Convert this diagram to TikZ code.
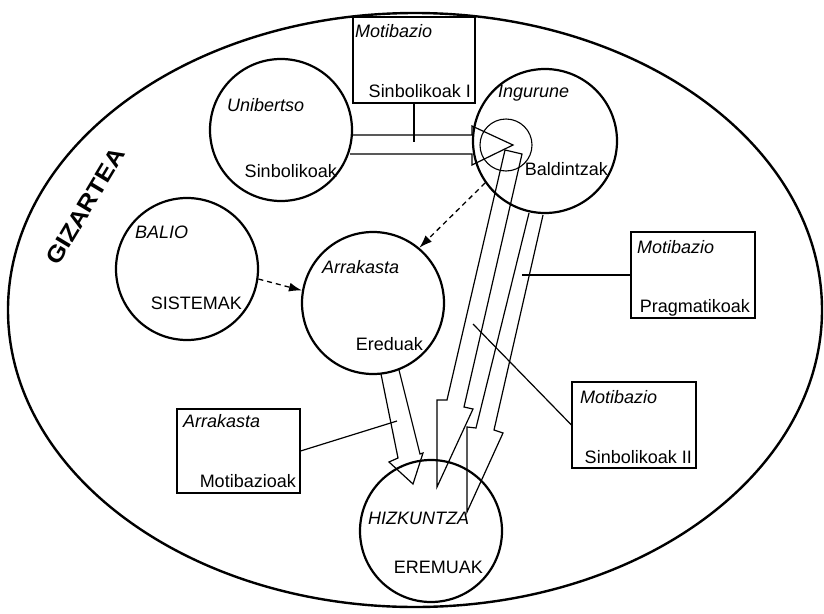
\documentclass[tikz,border=0pt]{standalone}
\usepackage{fontspec}
\setmainfont{Liberation Sans}
\usetikzlibrary{arrows.meta}
\begin{document}
\begin{tikzpicture}[x=1pt,y=-1pt,
  ring/.style={circle, draw, line width=2.2pt, minimum size=142pt, inner sep=0pt},
  frame/.style={draw, line width=1.1pt, rectangle, inner sep=0pt},
  thinline/.style={line width=1.2pt, line join=miter},
  lbl/.style={inner sep=0pt, font=\fontsize{18}{20}\selectfont},
  ilbl/.style={inner sep=0pt, font=\fontsize{18}{20}\selectfont\itshape},
  dasharrow/.style={line width=1.3pt, dash pattern=on 5pt off 4pt,
    -{Latex[length=13pt,width=9pt]}}
]
\useasboundingbox (0,0) rectangle (824,613);

% society: the enclosing ellipse
\draw[line width=2.4pt] (415,310) ellipse [x radius=407, y radius=297];
\node[rotate=59, xscale=1.12, anchor=base west, inner sep=0pt,
  font=\fontsize{23}{25}\selectfont\bfseries] (giz) at (58,267) {GIZARTEA};

% circles
\node[ring] (uni) at (281,130) {};
\node[ring, minimum size=144pt] (ing) at (545,141) {};
\node[ring] (bal) at (187,269) {};
\node[ring] (arr) at (373,303) {};
\node[ring] (hiz) at (431,531) {};
\node[circle, draw, line width=1.1pt, minimum size=52pt, inner sep=0pt] (core) at (506,145) {};

% circle labels
\node[ilbl, anchor=base west] (tuni) at (227,111) {Unibertso};
\node[lbl, anchor=base east] (tuni2) at (337,177) {Sinbolikoak};
\node[ilbl, anchor=base west] (ting) at (498,97) {Ingurune};
\node[lbl, anchor=base east] (ting2) at (608,175) {Baldintzak};
\node[ilbl, anchor=base west] (tbal) at (135,238) {BALIO};
\node[lbl, anchor=base east] (tbal2) at (242,309) {SISTEMAK};
\node[ilbl, anchor=base west] (tarr) at (322,273) {Arrakasta};
\node[lbl, anchor=base east] (tarr2) at (423,350) {Ereduak};
\node[ilbl, anchor=base west] (thiz) at (368,524) {HIZKUNTZA};
\node[lbl, anchor=base east] (thiz2) at (483,573) {EREMUAK};

% boxes
\node[frame, minimum width=122pt, minimum height=86pt] (b1) at (414,60) {};
\node[frame, minimum width=124pt, minimum height=86pt] (b2) at (693,275) {};
\node[frame, minimum width=124pt, minimum height=86pt] (b3) at (634,425) {};
\node[frame, minimum width=123pt, minimum height=84pt] (b4) at (238.5,451) {};

\node[ilbl, anchor=base west] (tb1) at (355,37) {Motibazio};
\node[lbl, anchor=base east] (tb1b) at (471,97) {Sinbolikoak I};
\node[ilbl, anchor=base west] (tb2) at (637,253) {Motibazio};
\node[lbl, anchor=base east] (tb2b) at (750,312) {Pragmatikoak};
\node[ilbl, anchor=base west] (tb3) at (580,403) {Motibazio};
\node[lbl, anchor=base east] (tb3b) at (692,463) {Sinbolikoak II};
\node[ilbl, anchor=base west] (tb4) at (183,427) {Arrakasta};
\node[lbl, anchor=base east] (tb4b) at (296,487) {Motibazioak};

% hollow arrows
\draw[thinline] (352,135) -- (472,135) -- (472,126) -- (513,145)
  -- (472,165) -- (472,154) -- (350,154);
\draw[thinline] (505,150) -- (522,154) -- (464,407) -- (473,409)
  -- (437,487) -- (437,400) -- (447,400) -- cycle;
\draw[thinline] (529,213) -- (476,428) -- (467,427) -- (467,512)
  -- (503,433) -- (494,430) -- (543,215);
\draw[thinline] (381,374) -- (398,458) -- (389,462) -- (413,484)
  -- (423,453) -- (420,454) -- (399,370);

% attachment points inside the arrows
\coordinate (p1) at (414,142);
\coordinate (p2) at (522,275);
\coordinate (p3) at (473,324);
\coordinate (p4) at (397,421);
\draw[thinline] (b1.south) -- (p1);
\draw[thinline] (b2.west) -- (p2);
\draw[thinline] (b3.west) -- (p3);
\draw[thinline] (b4.east) -- (p4);

% dashed influences
\draw[dasharrow] (ing.215) -- (arr.50);
\draw[dasharrow] (bal.-8) -- (arr.170);
\end{tikzpicture}
\end{document}
